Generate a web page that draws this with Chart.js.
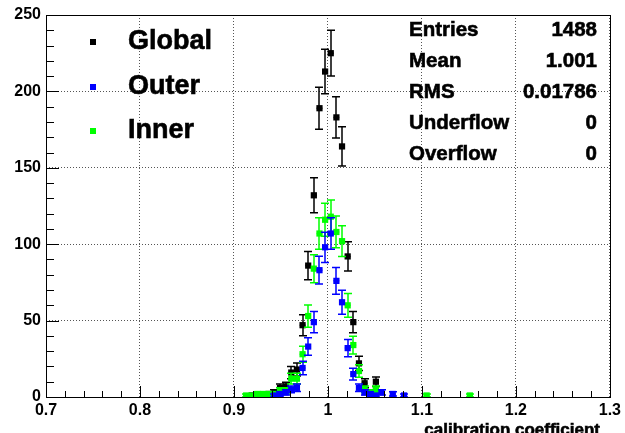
<!DOCTYPE html>
<html>
<head>
<meta charset="utf-8">
<script src="https://cdn.jsdelivr.net/npm/chart.js@4.4.1/dist/chart.umd.min.js"></script>
<style>
html,body{margin:0;padding:0;background:#fff;}
canvas{display:block;}
</style>
</head>
<body>
<canvas id="c" width="625" height="433"></canvas>
<script>
// Bin centres (calibration coefficient), bin width 0.006
const binCenters = [0.913,0.919,0.925,0.931,0.937,0.943,0.949,0.955,0.961,0.967,0.973,0.979,0.985,0.991,0.997,1.003,1.009,1.015,1.021,1.027,1.033,1.039,1.045,1.051,1.057,1.063,1.069,1.075,1.081,1.105,1.151];
const globalCounts = [null,1,1,1,2,3,6,7,16,18,47,86,132,189,213,225,183,164,92,49,22,9,3,10,null,null,null,null,null,null,null];
const outerCounts  = [null,null,null,null,null,1,2,3,5,6,19,33,49,83,98,107,76,62,32,15,6,3,2,1,3,null,2,null,1,null,null];
const innerCounts  = [1,1,2,2,2,2,4,4,12,12,28,53,84,107,116,118,108,102,60,34,17,5,3,5,null,null,null,null,null,1,1];
const seriesNames = ['Global','Outer','Inner'];
const seriesColors = ['#000000','#0000ff','#00ff00'];
const statLabels = ['Entries','Mean','RMS','Underflow','Overflow'];
const statValues = ['1488','1.001','0.01786','0','0'];
const xTitle = 'calibration coefficient';

function pts(counts){
  const out = [];
  binCenters.forEach((x,i)=>{ if(counts[i]!==null) out.push({x:x,y:counts[i]}); });
  return out;
}

const FONT = '"Liberation Sans", Arial, Helvetica, sans-serif';

const errorBars = {
  id:'errorBars',
  beforeDatasetDraw(chart, args){
    const ctx = chart.ctx, xs = chart.scales.x, ys = chart.scales.y;
    const ds = chart.data.datasets[args.index];
    const a = chart.chartArea;
    ctx.save();
    ctx.beginPath(); ctx.rect(a.left,a.top,a.right-a.left,a.bottom-a.top); ctx.clip();
    ctx.strokeStyle = ds.borderColor; ctx.lineWidth = 1.5;
    ds.data.forEach(p=>{
      const e = Math.sqrt(p.y);
      const px = Math.round(xs.getPixelForValue(p.x));
      const y1 = ys.getPixelForValue(p.y - e), y2 = ys.getPixelForValue(p.y + e);
      const hx1 = xs.getPixelForValue(p.x-0.003), hx2 = xs.getPixelForValue(p.x+0.003);
      const py = ys.getPixelForValue(p.y);
      ctx.beginPath();
      ctx.moveTo(px,y1); ctx.lineTo(px,y2);
      ctx.moveTo(px-4,y1); ctx.lineTo(px+4,y1);
      ctx.moveTo(px-4,y2); ctx.lineTo(px+4,y2);
      ctx.moveTo(hx1,py); ctx.lineTo(hx2,py);
      ctx.stroke();
    });
    ctx.restore();
  }
};

function boldText(ctx, t, x, y){
  ctx.fillText(t, x, y);
  ctx.lineWidth = 0.6; ctx.strokeStyle = ctx.fillStyle;
  ctx.strokeText(t, x, y);
}

const decor = {
  id:'decor',
  afterDraw(chart){
    const ctx = chart.ctx, xs = chart.scales.x, ys = chart.scales.y, a = chart.chartArea;
    ctx.save();
    // frame
    ctx.strokeStyle = '#000'; ctx.lineWidth = 1;
    ctx.strokeRect(Math.round(a.left)+0.5, Math.round(a.top)+0.5, Math.round(a.right-a.left), Math.round(a.bottom-a.top));
    // ticks
    ctx.beginPath();
    for(let k=0;k<=30;k++){
      const v = 0.7 + k*0.02;
      const px = Math.round(xs.getPixelForValue(v))+0.5;
      const len = (k%5===0)?11:6;
      ctx.moveTo(px,a.bottom); ctx.lineTo(px,a.bottom-len);
    }
    for(let k=0;k<=25;k++){
      const v = k*10;
      const py = Math.round(ys.getPixelForValue(v))+0.5;
      const len = (k%5===0)?13:8;
      ctx.moveTo(a.left,py); ctx.lineTo(a.left+len,py);
    }
    ctx.stroke();
    // axis title
    ctx.fillStyle = '#000';
    ctx.font = 'bold 17px ' + FONT;
    ctx.textAlign = 'right'; ctx.textBaseline = 'alphabetic';
    boldText(ctx, xTitle, 600, 435);
    // legend
    const legY = [42, 87, 131];
    ctx.font = 'bold 27px ' + FONT;
    ctx.textAlign = 'left'; ctx.textBaseline = 'middle';
    seriesNames.forEach((n,i)=>{
      ctx.fillStyle = seriesColors[i];
      ctx.fillRect(90, legY[i]-3, 6, 6);
      ctx.fillStyle = '#000';
      boldText(ctx, n, 128, legY[i]);
    });
    // stats box
    const statY = [30, 61, 92, 123, 154];
    ctx.font = 'bold 20.5px ' + FONT;
    statLabels.forEach((l,i)=>{
      ctx.textAlign = 'left'; boldText(ctx, l, 409, statY[i]);
      ctx.textAlign = 'right'; boldText(ctx, statValues[i], 597, statY[i]);
    });
    ctx.restore();
  }
};

const mkDs = (label, counts, color, order) => ({
  label: label, data: pts(counts), borderColor: color, backgroundColor: color,
  pointStyle:'rect', pointRadius:4.4, pointHoverRadius:4.4, borderWidth:0, showLine:false, order: order
});

new Chart(document.getElementById('c'), {
  type:'scatter',
  data:{ datasets:[
    mkDs(seriesNames[0], globalCounts, seriesColors[0], 3),
    mkDs(seriesNames[1], outerCounts, seriesColors[1], 1),
    mkDs(seriesNames[2], innerCounts, seriesColors[2], 2)
  ]},
  options:{
    responsive:false, animation:false, devicePixelRatio:1,
    layout:{ padding:{ top:15, right:15, left:0, bottom:0 } },
    plugins:{ legend:{display:false}, tooltip:{enabled:false} },
    scales:{
      x:{
        type:'linear', min:0.7, max:1.3,
        afterFit(s){ s.height = 36; },
        grid:{ color:'#555', lineWidth:1, drawTicks:false },
        border:{ display:false, dash:[1,2] },
        ticks:{ stepSize:0.1, padding:4, color:'#000', font:{family:FONT, size:16, weight:'bold'},
          maxRotation:0, autoSkip:false,
          callback:v=>String(Number(v.toFixed(2))) }
      },
      y:{
        min:0, max:250,
        afterFit(s){ s.width = 46; },
        grid:{ color:'#555', lineWidth:1, drawTicks:false },
        border:{ display:false, dash:[1,2] },
        ticks:{ stepSize:50, padding:5, color:'#000', font:{family:FONT, size:16, weight:'bold'} }
      }
    }
  },
  plugins:[errorBars, decor]
});
</script>
</body>
</html>
